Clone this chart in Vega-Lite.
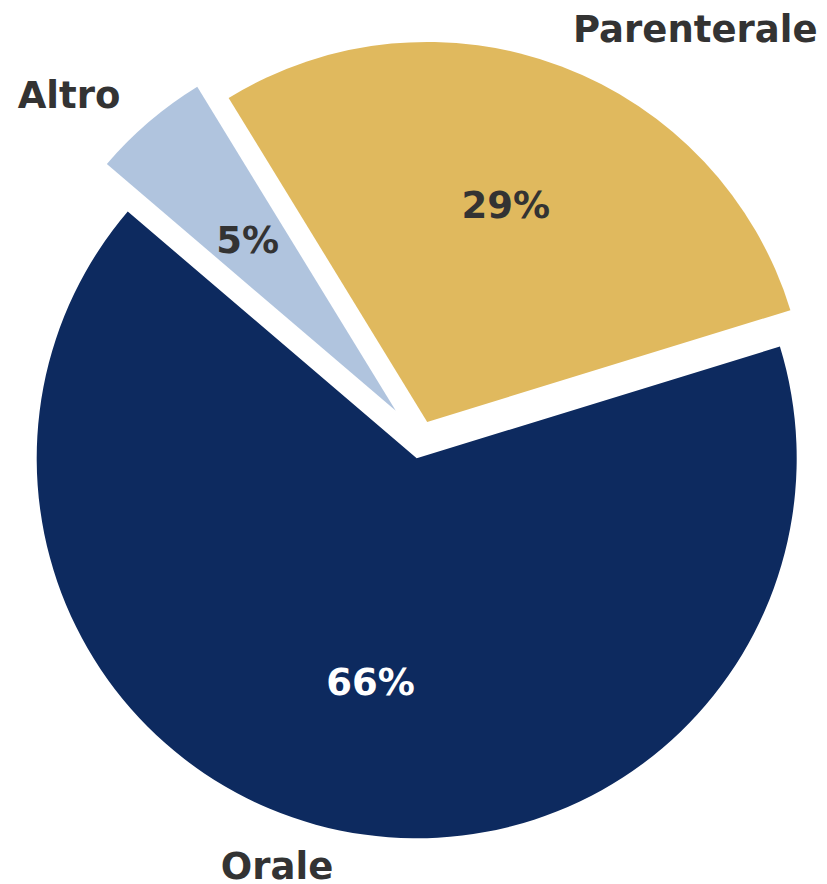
{
  "$schema": "https://vega.github.io/schema/vega-lite/v6.json",
  "width": 827,
  "height": 884,
  "padding": 0,
  "autosize": {"type": "none"},
  "background": "white",
  "view": {"stroke": null},
  "data": {
    "values": [
      {"category": "Orale", "value": 66, "label": "66%"},
      {"category": "Parenterale", "value": 29, "label": "29%"},
      {"category": "Altro", "value": 5, "label": "5%"}
    ]
  },
  "encoding": {
    "theta": {"field": "value", "type": "quantitative", "stack": true, "scale": {"range": [5.7334, 12.0166]}},
    "order": {"field": "category", "sort": "descending"}
  },
  "layer": [
    {
      "mark": {
        "type": "arc",
        "outerRadius": 380,
        "xOffset": {"expr": "datum.category === 'Orale' ? 3.2 : datum.category === 'Parenterale' ? 13.7 : -17.7"},
        "yOffset": {"expr": "datum.category === 'Orale' ? 16.3 : datum.category === 'Parenterale' ? -20.1 : -31.2"}
      },
      "encoding": {
        "color": {
          "field": "category",
          "type": "nominal",
          "scale": {"domain": ["Orale", "Parenterale", "Altro"], "range": ["#0d2a5f", "#e0b95e", "#b0c4de"]},
          "legend": null
        }
      }
    },
    {
      "mark": {
        "type": "text",
        "radius": 228,
        "fontSize": 37,
        "fontWeight": "bold",
        "font": "DejaVu Sans",
        "align": "center",
        "baseline": "middle",
        "fill": {"expr": "datum.category === 'Orale' ? '#ffffff' : '#333333'"},
        "xOffset": {"expr": "datum.category === 'Orale' ? 3.2 : datum.category === 'Parenterale' ? 11.7 : -17.7"},
        "yOffset": {"expr": "datum.category === 'Orale' ? 18.3 : datum.category === 'Parenterale' ? -22.1 : -26.2"}
      },
      "encoding": {"text": {"field": "label", "type": "nominal"}}
    },
    {
      "mark": {
        "type": "text",
        "radius": 418,
        "fontSize": 37,
        "fontWeight": "bold",
        "font": "DejaVu Sans",
        "baseline": "middle",
        "fill": "#333333",
        "align": {"expr": "datum.category === 'Parenterale' ? 'left' : 'right'"},
        "xOffset": {"expr": "datum.category === 'Orale' ? 4.5 : datum.category === 'Parenterale' ? 11.7 : -21.7"},
        "yOffset": {"expr": "datum.category === 'Orale' ? 16.3 : datum.category === 'Parenterale' ? -20.1 : -26.7"}
      },
      "encoding": {"text": {"field": "category", "type": "nominal"}}
    }
  ]
}
